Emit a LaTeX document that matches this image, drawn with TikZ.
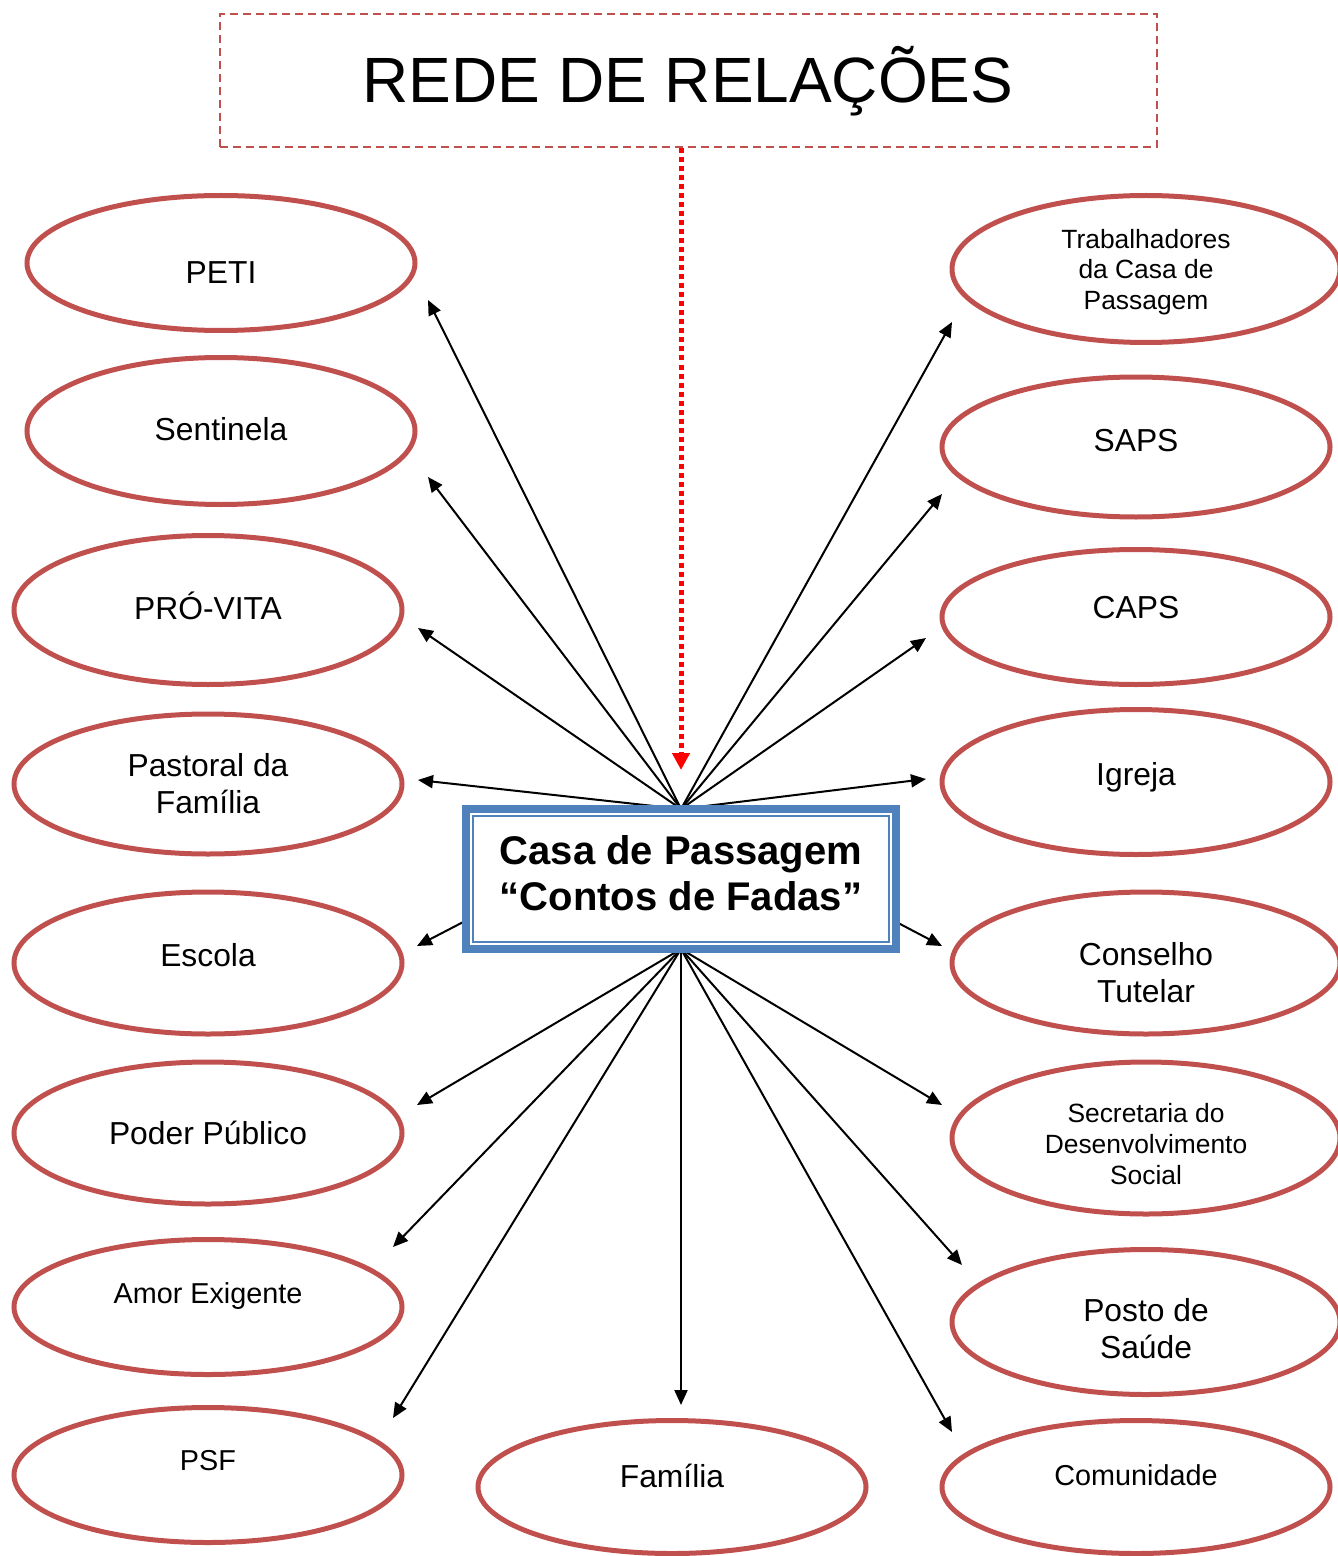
\documentclass[tikz,border=0pt]{standalone}
\usepackage{fontspec}
\setmainfont{Liberation Sans}
\usetikzlibrary{shapes.geometric, arrows.meta, backgrounds}
\definecolor{elred}{HTML}{C0504D}
\definecolor{boxblue}{HTML}{4F81BD}
\tikzset{
    agente/.style={ellipse, draw=elred, line width=2.5pt, minimum width=194pt, minimum height=70pt, inner sep=0pt},
    rotulo/.style={align=center, inner sep=0pt, font=\fontsize{15.9}{18.5}\selectfont},
    pequeno/.style={font=\fontsize{14.4}{17}\selectfont},
    miudo/.style={font=\fontsize{13.2}{15.3}\selectfont},
    centro/.style={rectangle, draw=boxblue, line width=4pt, fill=white, outer sep=0pt, minimum width=215pt, minimum height=70pt, align=center, font=\fontsize{20}{23}\selectfont\bfseries},
    titulo/.style={rectangle, draw=elred, line width=1pt, dash pattern=on 4pt off 2.5pt, minimum width=468.5pt, minimum height=66.5pt, font=\fontsize{32}{36}\selectfont},
    arrow/.style={line width=1pt, -{Triangle[length=7.5pt, width=6.5pt]}},
    dottedarrow/.style={red, line width=2.5pt, dash pattern=on 2.5pt off 2pt, -{Triangle[length=8.5pt, width=8.5pt]}}
}

\begin{document}
\begin{tikzpicture}[x=0.5pt, y=-0.5pt]
\useasboundingbox (0,0) rectangle (1337,1556);

% Title and central node
\node (titulo) [titulo] at (688,81) {REDE DE RELAÇÕES};
\node (casa) [centro, text depth=6pt] at (681,879) {Casa de Passagem\\“Contos de Fadas”};
\draw [boxblue, line width=1.2pt] ([shift={(3.5pt,-3.5pt)}]casa.north west) rectangle ([shift={(-3.5pt,3.5pt)}]casa.south east);

% Left column
\node (peti) [agente, minimum height=67.5pt, label={[rotulo, yshift=-5pt]center:PETI}] at (221,263) {};
\node (sentinela) [agente, minimum height=73.5pt, label={[rotulo, yshift=1pt]center:Sentinela}] at (221,431) {};
\node (provita) [agente, minimum height=74.5pt, label={[rotulo, yshift=2pt]center:PRÓ-VITA}] at (208,610) {};
\node (pastoral) [agente, label={[rotulo]center:Pastoral da\\Família}] at (208,784) {};
\node (escola) [agente, minimum height=71pt, label={[rotulo, yshift=4pt]center:Escola}] at (208,963) {};
\node (poder) [agente, minimum height=71pt, label={[rotulo]center:Poder Público}] at (208,1133) {};
\node (amor) [agente, minimum height=67.5pt, label={[rotulo, pequeno, yshift=5.5pt]center:Amor Exigente}] at (208,1307) {};
\node (psf) [agente, minimum height=67.5pt, label={[rotulo, pequeno, yshift=7pt]center:PSF}] at (208,1475) {};

% Bottom centre
\node (familia) [agente, minimum height=66.5pt, label={[rotulo, yshift=5.5pt]center:Família}] at (672,1487) {};

% Right column
\node (trabalhadores) [agente, minimum height=73.5pt, label={[rotulo, miudo, yshift=-1.5pt]center:Trabalhadores\\da Casa de\\Passagem}] at (1146,269) {};
\node (saps) [agente, label={[rotulo, yshift=3pt]center:SAPS}] at (1136,447) {};
\node (caps) [agente, minimum height=67.5pt, label={[rotulo, yshift=4.5pt]center:CAPS}] at (1136,617) {};
\node (igreja) [agente, minimum height=72.5pt, label={[rotulo, yshift=2.5pt]center:Igreja}] at (1136,782) {};
\node (conselho) [agente, minimum height=71pt, label={[rotulo, yshift=-5pt]center:Conselho\\Tutelar}] at (1146,963) {};
\node (secretaria) [agente, minimum height=76pt, label={[rotulo, miudo, yshift=-3pt]center:Secretaria do\\Desenvolvimento\\Social}] at (1146,1138) {};
\node (posto) [agente, minimum height=72.5pt, label={[rotulo, yshift=-3.5pt]center:Posto de\\Saúde}] at (1146,1322) {};
\node (comunidade) [agente, minimum height=66.5pt, label={[rotulo, pequeno, yshift=6pt]center:Comunidade}] at (1136,1487) {};

% Arrow tips
\coordinate (casa-tip) at (681,770);
\coordinate (peti-tip) at (428,300);
\coordinate (sentinela-tip) at (428,477);
\coordinate (provita-tip) at (418,628);
\coordinate (pastoral-tip) at (418,780);
\coordinate (escola-tip) at (417,946);
\coordinate (poder-tip) at (417,1105);
\coordinate (amor-tip) at (393,1247);
\coordinate (psf-tip) at (393,1418);
\coordinate (familia-tip) at (681,1405);
\coordinate (comunidade-tip) at (952,1432);
\coordinate (posto-tip) at (962,1265);
\coordinate (secretaria-tip) at (942,1105);
\coordinate (conselho-tip) at (942,946);
\coordinate (igreja-tip) at (926,779);
\coordinate (caps-tip) at (926,638);
\coordinate (saps-tip) at (942,494);
\coordinate (trabalhadores-tip) at (952,322);

% Title pointing down
\draw [dottedarrow] (titulo.south -| casa.north) -- (casa-tip);

\begin{scope}[on background layer]
% Upper fan
\draw [arrow] (casa.north) -- (peti-tip);
\draw [arrow] (casa.north) -- (sentinela-tip);
\draw [arrow] (casa.north) -- (provita-tip);
\draw [arrow] (casa.north) -- (pastoral-tip);
\draw [arrow] (casa.north) -- (escola-tip);
\draw [arrow] (casa.north) -- (trabalhadores-tip);
\draw [arrow] (casa.north) -- (saps-tip);
\draw [arrow] (casa.north) -- (caps-tip);
\draw [arrow] (casa.north) -- (igreja-tip);
\draw [arrow] (casa.north) -- (conselho-tip);

% Lower fan
\draw [arrow] (casa.south) -- (poder-tip);
\draw [arrow] (casa.south) -- (amor-tip);
\draw [arrow] (casa.south) -- (psf-tip);
\draw [arrow] (casa.south) -- (familia-tip);
\draw [arrow] (casa.south) -- (comunidade-tip);
\draw [arrow] (casa.south) -- (posto-tip);
\draw [arrow] (casa.south) -- (secretaria-tip);
\end{scope}

\end{tikzpicture}
\end{document}
